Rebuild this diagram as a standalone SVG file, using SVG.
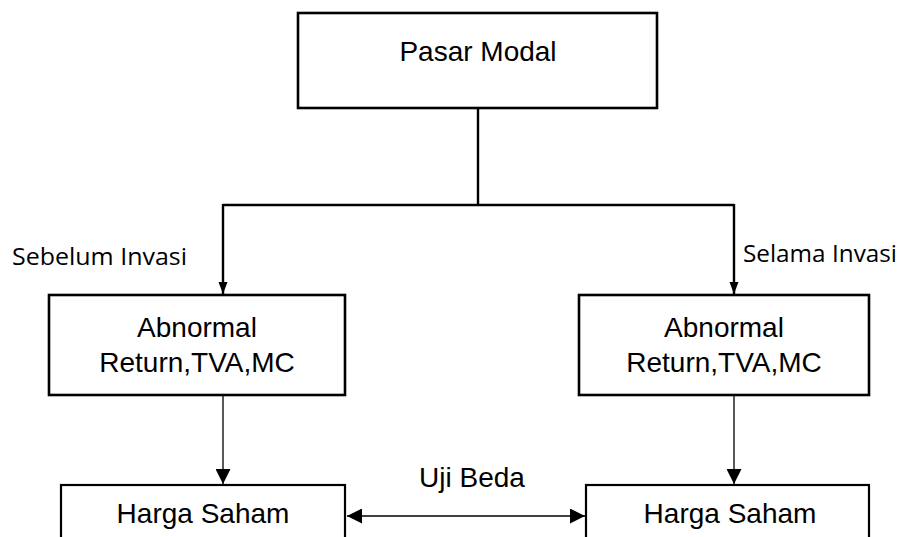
<svg xmlns="http://www.w3.org/2000/svg" width="905" height="537" viewBox="0 0 905 537">
<style>
.box{fill:#fff;stroke:#000;stroke-width:2.6}
.box2{fill:#fff;stroke:#000;stroke-width:2.2}
.t{font-family:"Liberation Sans",Arial,sans-serif;font-size:28px;fill:#000;text-anchor:middle}
.lbl{font-family:"Open Sans","Noto Sans",sans-serif;font-size:23px;fill:#000}
.thick{fill:none;stroke:#000;stroke-width:2.4}
.thin{fill:none;stroke:#000;stroke-width:1.3}
</style>
<defs>
<marker id="ah" markerUnits="userSpaceOnUse" markerWidth="12" markerHeight="16" refX="16" refY="6" orient="auto" viewBox="0 0 16 12">
<path d="M0,0 L16,6 L0,12 z" fill="#000"/>
</marker>
<marker id="ah2" markerUnits="userSpaceOnUse" markerWidth="15" markerHeight="15" refX="15" refY="7.5" orient="auto-start-reverse" viewBox="0 0 15 15">
<path d="M0,0 L15,7.5 L0,15 z" fill="#000"/>
</marker>
</defs>
<g id="connectors">
<path class="thick" d="M478,108 V205"/>
<path class="thick" d="M223,205 H734"/>
<path class="thick" d="M223,204 V294" marker-end="url(#ah)"/>
<path class="thick" d="M734,204 V294" marker-end="url(#ah)"/>
<path class="thin" d="M223,395 V484" marker-end="url(#ah2)"/>
<path class="thin" d="M734,395 V484" marker-end="url(#ah2)"/>
<path class="thin" d="M347,516 H585" marker-start="url(#ah2)" marker-end="url(#ah2)"/>
</g>
<g id="pasar-modal">
<rect class="box" x="298" y="13" width="359" height="95"/>
<text class="t" x="478" y="61">Pasar Modal</text>
</g>
<g id="abnormal-left">
<rect class="box" x="49" y="295" width="296" height="100"/>
<text class="t" x="197" y="337">Abnormal</text>
<text class="t" x="197" y="372">Return,TVA,MC</text>
</g>
<g id="abnormal-right">
<rect class="box" x="579" y="295" width="290" height="100"/>
<text class="t" x="724" y="337">Abnormal</text>
<text class="t" x="724" y="372">Return,TVA,MC</text>
</g>
<g id="harga-left">
<rect class="box2" x="61" y="485" width="284" height="70"/>
<text class="t" x="203" y="523">Harga Saham</text>
</g>
<g id="harga-right">
<rect class="box2" x="586" y="485" width="283" height="70"/>
<text class="t" x="730" y="523">Harga Saham</text>
</g>
<g id="labels">
<text class="lbl" x="12" y="265" textLength="175" lengthAdjust="spacingAndGlyphs">Sebelum Invasi</text>
<text class="lbl" x="743" y="262" textLength="154" lengthAdjust="spacingAndGlyphs">Selama Invasi</text>
<text class="t" x="472" y="487">Uji Beda</text>
</g>
</svg>
